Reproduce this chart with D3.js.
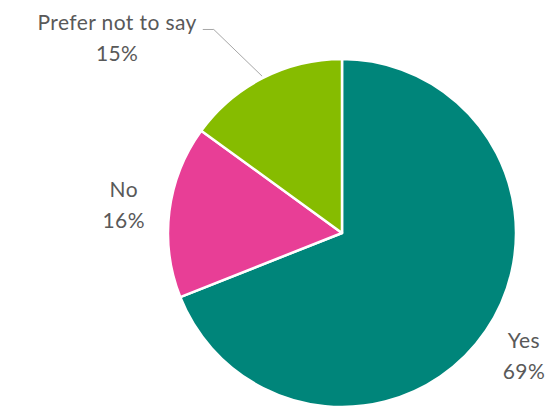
<!DOCTYPE html>
<html>
<head>
<meta charset="utf-8">
<script src="https://cdn.jsdelivr.net/npm/d3@7"></script>
<style>
  body { margin: 0; background: #fff; }
  svg text { font-family: Lato, "Open Sans", sans-serif; fill: #595959; letter-spacing: 0.4px; }
</style>
</head>
<body>
<svg id="pie-chart" width="554" height="406"></svg>
<script>
// Data
var categories = ["Yes", "No", "Prefer not to say"];
var shares = [69, 16, 15];
var colours = ["#00857a", "#e83e96", "#86bc00"];

var svg = d3.select("#pie-chart"),
    width = +svg.attr("width"),
    height = +svg.attr("height");

var radius = 174;
var cx = 342, cy = 233;

var color = d3.scaleOrdinal().domain(categories).range(colours);

var pie = d3.pie()
    .sort(null)
    .value(function (d) { return d.value; });

var rows = categories.map(function (c, i) { return { name: c, value: shares[i] }; });
var arcs = pie(rows);

var arc = d3.arc().innerRadius(0).outerRadius(radius);
var labelArc = d3.arc().innerRadius(220).outerRadius(220);

var g = svg.append("g").attr("transform", "translate(" + cx + "," + cy + ")");

// slices
g.selectAll("path.slice")
    .data(arcs)
    .enter()
    .append("path")
    .attr("class", "slice")
    .attr("d", arc)
    .attr("fill", function (d) { return color(d.data.name); })
    .attr("stroke", "#fff")
    .attr("stroke-width", 2.5)
    .attr("stroke-linejoin", "round");

// labels: the small slice at the top has its label pulled out to the left
var shift = { "Prefer not to say": [-125, 2] };
var lineGap = 31;

var labels = g.selectAll("g.label")
    .data(arcs)
    .enter()
    .append("g")
    .attr("class", "label")
    .attr("transform", function (d) {
        var p = labelArc.centroid(d);
        var s = shift[d.data.name] || [0, 0];
        return "translate(" + (p[0] + s[0]) + "," + (p[1] + s[1]) + ")";
    });

labels.append("text")
    .attr("class", "name")
    .attr("text-anchor", "middle")
    .attr("y", -lineGap / 2 + 7)
    .style("font-size", "21px")
    .text(function (d) { return d.data.name; });

labels.append("text")
    .attr("text-anchor", "middle")
    .attr("y", lineGap / 2 + 7)
    .style("font-size", "21px")
    .text(function (d) { return d.data.value + "%"; });

// leader line for the pulled-out label
labels.filter(function (d) { return shift[d.data.name]; })
    .each(function (d) {
        var lab = d3.select(this);
        var txt = lab.select("text.name");
        var w = txt.node().getComputedTextLength();
        var p = labelArc.centroid(d);
        var s = shift[d.data.name];
        var ox = p[0] + s[0], oy = p[1] + s[1];
        var lineY = oy - lineGap / 2 + 7 - 1;
        var a = (d.startAngle + d.endAngle) / 2;
        var edge = [Math.sin(a) * (radius + 2), -Math.cos(a) * (radius + 2)];
        var pts = [
            [ox + w / 2 + 6, lineY],
            [ox + w / 2 + 17, lineY],
            edge
        ];
        g.append("path")
            .attr("d", d3.line()(pts))
            .attr("fill", "none")
            .attr("stroke", "#a6a6a6")
            .attr("stroke-width", 1);
    });
</script>
</body>
</html>
